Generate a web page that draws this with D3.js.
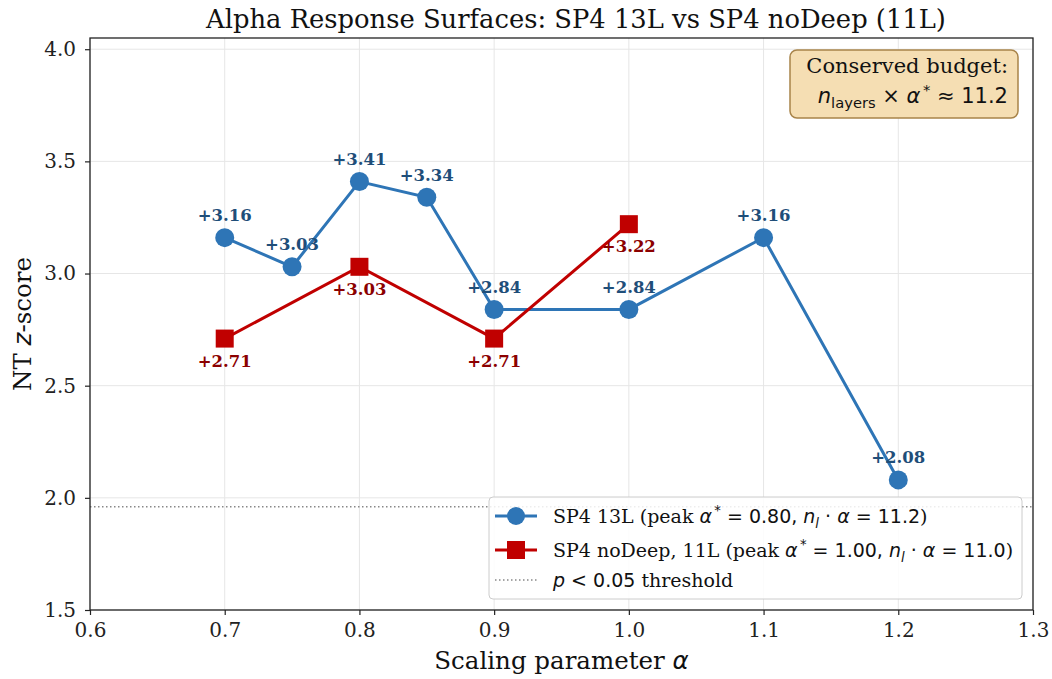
<!DOCTYPE html>
<html>
<head>
<meta charset="utf-8">
<script src="https://cdn.jsdelivr.net/npm/d3@7"></script>
<style>
  body { margin: 0; background: #fff; }
  svg { font-family: 'DejaVu Serif', serif; }
</style>
</head>
<body>
<svg id="chart" width="1052" height="679"></svg>
<script>
const alpha13 = [0.70, 0.75, 0.80, 0.85, 0.90, 1.00, 1.10, 1.20]
const z13 = [3.16, 3.03, 3.41, 3.34, 2.84, 2.84, 3.16, 2.08]
const alpha11 = [0.70, 0.80, 0.90, 1.00]
const z11 = [2.71, 3.03, 2.71, 3.22]
const xTicks = [0.6, 0.7, 0.8, 0.9, 1.0, 1.1, 1.2, 1.3]
const yTicks = [1.5, 2.0, 2.5, 3.0, 3.5, 4.0]
const threshold = 1.96

const blue = '#2e75b6'
const blueDark = '#1f4e79'
const red = '#c00000'
const redDark = '#8b0000'
const mathFont = "'DejaVu Sans', sans-serif"

let svg = d3.select('#chart')
let pLeft = 90, pRight = 1033, pTop = 38, pBottom = 610

let x = d3.scaleLinear().domain([0.6, 1.3]).range([pLeft, pRight])
let y = d3.scaleLinear().domain([1.5, 4.05]).range([pBottom, pTop])

// grid
svg.append('g').selectAll('line').data(xTicks).enter().append('line')
  .attr('x1', d => x(d)).attr('x2', d => x(d))
  .attr('y1', pTop).attr('y2', pBottom)
  .attr('stroke', '#e6e6e6').attr('stroke-width', 1)
svg.append('g').selectAll('line').data(yTicks).enter().append('line')
  .attr('x1', pLeft).attr('x2', pRight)
  .attr('y1', d => y(d)).attr('y2', d => y(d))
  .attr('stroke', '#e6e6e6').attr('stroke-width', 1)

// threshold
svg.append('line')
  .attr('x1', pLeft).attr('x2', pRight)
  .attr('y1', y(threshold)).attr('y2', y(threshold))
  .attr('stroke', '#888').attr('stroke-width', 1.5)
  .attr('stroke-dasharray', '1.5,2.5')

// axes
let xAxis = d3.axisBottom(x).tickValues(xTicks).tickFormat(d3.format('.1f')).tickSize(5).tickPadding(8)
let yAxis = d3.axisLeft(y).tickValues(yTicks).tickFormat(d3.format('.1f')).tickSize(5).tickPadding(9)

let gx = svg.append('g').attr('transform', 'translate(0,' + pBottom + ')').call(xAxis)
let gy = svg.append('g').attr('transform', 'translate(' + pLeft + ',0)').call(yAxis)
;[gx, gy].forEach(g => {
  g.select('.domain').remove()
  g.selectAll('text').attr('font-family', "'DejaVu Serif', serif").attr('font-size', 20).attr('fill', '#222')
  g.selectAll('line').attr('stroke', '#222').attr('stroke-width', 1.2)
})

svg.append('rect')
  .attr('x', pLeft).attr('y', pTop)
  .attr('width', pRight - pLeft).attr('height', pBottom - pTop)
  .attr('fill', 'none').attr('stroke', '#222').attr('stroke-width', 1.3)

// lines
let line = d3.line().x(d => x(d[0])).y(d => y(d[1]))
let s13 = alpha13.map((a, i) => [a, z13[i]])
let s11 = alpha11.map((a, i) => [a, z11[i]])

svg.append('path').datum(s13).attr('d', line)
  .attr('fill', 'none').attr('stroke', blue).attr('stroke-width', 3)
svg.append('path').datum(s11).attr('d', line)
  .attr('fill', 'none').attr('stroke', red).attr('stroke-width', 3)

svg.append('g').selectAll('circle').data(s13).enter().append('circle')
  .attr('cx', d => x(d[0])).attr('cy', d => y(d[1])).attr('r', 9.5)
  .attr('fill', blue)
svg.append('g').selectAll('rect').data(s11).enter().append('rect')
  .attr('x', d => x(d[0]) - 9).attr('y', d => y(d[1]) - 9)
  .attr('width', 18).attr('height', 18)
  .attr('fill', red)

// value labels
svg.append('g').selectAll('text').data(s13).enter().append('text')
  .attr('x', d => x(d[0])).attr('y', d => y(d[1]) - 16.5)
  .attr('text-anchor', 'middle').attr('font-size', 16.5).attr('font-weight', 'bold')
  .attr('fill', blueDark)
  .text(d => '+' + d[1].toFixed(2))
svg.append('g').selectAll('text').data(s11).enter().append('text')
  .attr('x', d => x(d[0])).attr('y', d => y(d[1]) + 28)
  .attr('text-anchor', 'middle').attr('font-size', 16.5).attr('font-weight', 'bold')
  .attr('fill', redDark)
  .text(d => '+' + d[1].toFixed(2))

// titles
svg.append('text').attr('x', 576).attr('y', 28)
  .attr('text-anchor', 'middle').attr('font-size', 25.8).attr('fill', '#111')
  .text('Alpha Response Surfaces: SP4 13L vs SP4 noDeep (11L)')

let xl = svg.append('text').attr('x', (pLeft + pRight) / 2).attr('y', 669)
  .attr('text-anchor', 'middle').attr('font-size', 24.5).attr('fill', '#111')
xl.append('tspan').text('Scaling parameter ')
xl.append('tspan').attr('font-family', mathFont).attr('font-style', 'italic').text('α')

let yl = svg.append('text').attr('transform', 'translate(31,' + ((pTop + pBottom) / 2) + ') rotate(-90)')
  .attr('text-anchor', 'middle').attr('font-size', 24.5).attr('fill', '#111')
yl.append('tspan').text('NT ')
yl.append('tspan').attr('font-family', mathFont).attr('font-style', 'italic').text('z')
yl.append('tspan').text('-score')

// rich text helper: parts [text, kind, extra dy]
function rich(sel, parts, size) {
  parts.forEach(p => {
    let t = sel.append('tspan').text(p[0])
    if (p[1] === 'm') t.attr('font-family', mathFont)
    if (p[1] === 'mi') t.attr('font-family', mathFont).attr('font-style', 'italic')
    if (p[1] === 'sup') t.attr('font-family', mathFont).attr('font-size', size * 0.7).attr('dy', -size * 0.4).attr('dx', size * 0.12)
    if (p[1] === 'sub') t.attr('font-family', mathFont).attr('font-style', 'italic').attr('font-size', size * 0.7).attr('dy', size * 0.25)
    if (p[1] === 'subr') t.attr('font-family', mathFont).attr('font-size', size * 0.7).attr('dy', size * 0.25)
    if (p[2] !== undefined) t.attr('dy', p[2])
  })
}

// budget box
svg.append('rect').attr('x', 790).attr('y', 50).attr('width', 228).attr('height', 68)
  .attr('rx', 7).attr('fill', '#f5deb3').attr('stroke', '#a8844a').attr('stroke-width', 1.5)
svg.append('text').attr('x', 1008).attr('y', 73).attr('text-anchor', 'end')
  .attr('font-size', 21).attr('fill', '#111').text('Conserved budget:')
let bt = svg.append('text').attr('x', 1008).attr('y', 103).attr('text-anchor', 'end')
  .attr('font-size', 21).attr('fill', '#111')
rich(bt, [['n', 'mi'], ['layers', 'subr'], [' × ', 'm', -5], ['α', 'mi'], ['*', 'sup'], [' ≈ 11.2', 'm', 8]], 21)

// legend
let lg = svg.append('g')
lg.append('rect').attr('x', 489).attr('y', 497).attr('width', 533).attr('height', 102)
  .attr('rx', 4).attr('fill', 'rgba(255,255,255,0.85)').attr('stroke', '#ccc').attr('stroke-width', 1)

let rows = [516, 550, 580]
lg.append('line').attr('x1', 495).attr('x2', 537).attr('y1', rows[0]).attr('y2', rows[0])
  .attr('stroke', blue).attr('stroke-width', 3)
lg.append('circle').attr('cx', 516).attr('cy', rows[0]).attr('r', 9).attr('fill', blue)
lg.append('line').attr('x1', 495).attr('x2', 537).attr('y1', rows[1]).attr('y2', rows[1])
  .attr('stroke', red).attr('stroke-width', 3)
lg.append('rect').attr('x', 507).attr('y', rows[1] - 9).attr('width', 18).attr('height', 18).attr('fill', red)
lg.append('line').attr('x1', 495).attr('x2', 537).attr('y1', rows[2]).attr('y2', rows[2])
  .attr('stroke', '#888').attr('stroke-width', 1.5).attr('stroke-dasharray', '1.5,2.5')

let legendRows = [
  [['SP4 13L (peak ', 's'], ['α', 'mi'], ['*', 'sup'], [' = 0.80, ', 'm', 7.6], ['n', 'mi'], ['l', 'sub'], [' · ', 'm', -4.75], ['α', 'mi'], [' = 11.2', 'm'], [')', 's']],
  [['SP4 noDeep, 11L (peak ', 's'], ['α', 'mi'], ['*', 'sup'], [' = 1.00, ', 'm', 7.6], ['n', 'mi'], ['l', 'sub'], [' · ', 'm', -4.75], ['α', 'mi'], [' = 11.0', 'm'], [')', 's']],
  [['p', 'mi'], [' < 0.05', 'm'], [' threshold', 's']]
]
legendRows.forEach((r, i) => {
  let t = lg.append('text').attr('x', 553).attr('y', rows[i] + 7)
    .attr('font-size', 19).attr('fill', '#111')
  rich(t, r, 19)
})
</script>
</body>
</html>
